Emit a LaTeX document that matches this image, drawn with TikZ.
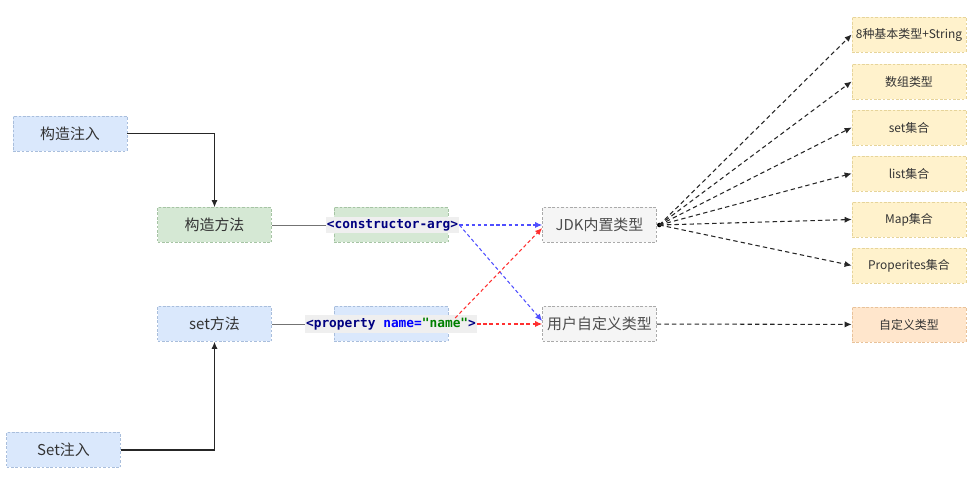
\documentclass[tikz,border=0pt]{standalone}
\usepackage{fontspec}
\usepackage{xcolor}
\setmainfont{Noto Sans CJK SC}
\newfontfamily\codefont{DejaVu Sans Mono}
\usetikzlibrary{arrows.meta}

\definecolor{bluefill}{HTML}{DAE8FC}
\definecolor{blueline}{HTML}{A9BEDC}
\definecolor{greenfill}{HTML}{D5E8D4}
\definecolor{greenline}{HTML}{A6C4A4}
\definecolor{grayfill}{HTML}{F5F5F5}
\definecolor{grayline}{HTML}{AAAAAA}
\definecolor{yellowfill}{HTML}{FFF2CC}
\definecolor{yellowline}{HTML}{E6D49A}
\definecolor{orangefill}{HTML}{FFE6CC}
\definecolor{orangeline}{HTML}{E8C29A}
\definecolor{codebg}{HTML}{EFEFEF}
\definecolor{navy}{HTML}{000080}
\definecolor{kwblue}{HTML}{0000FF}
\definecolor{strgreen}{HTML}{008000}
\definecolor{xmlblue}{HTML}{4F4FFF}
\definecolor{xmlred}{HTML}{FF3030}

\begin{document}
\begin{tikzpicture}[x=0.02cm, y=-0.02cm,
    box/.style={rectangle, minimum width=2.28cm, minimum height=0.7cm, inner sep=1pt,
      line width=0.4pt, dash pattern=on 1.5pt off 1pt, text=black!80, font=\fontsize{8.5}{10}\selectfont},
    bluebox/.style={box, draw=blueline, fill=bluefill},
    greenbox/.style={box, draw=greenline, fill=greenfill},
    graybox/.style={box, draw=grayline, fill=grayfill, text=black!70},
    kindbox/.style={box, draw=yellowline, fill=yellowfill, font=\fontsize{6.8}{8}\selectfont},
    ownbox/.style={box, draw=orangeline, fill=orangefill, font=\fontsize{6.8}{8}\selectfont},
    codetxt/.style={fill=codebg, inner xsep=0.5pt, inner ysep=1.5pt, font=\codefont\bfseries\fontsize{7.3}{8}\selectfont},
    link/.style={-{Latex[length=4pt,width=3.5pt]}, line width=0.6pt, black!85},
    plain/.style={line width=0.5pt, black!55},
    xmlarrow/.style={-{Latex[length=4pt,width=3.5pt]}, line width=0.6pt, dash pattern=on 2pt off 1.5pt},
    fan/.style={-{Latex[length=4pt,width=3.5pt]}, line width=0.6pt, black!85, dash pattern=on 2.5pt off 1.8pt}]
    \useasboundingbox (0,0) rectangle (974,492);

    % Injection kinds
    \node[bluebox] (ctorinj) at (70,133.5) {构造注入};
    \node[bluebox] (setinj) at (63.5,450) {Set注入};

    % Methods
    \node[greenbox] (ctorm) at (214.5,225) {构造方法};
    \node[bluebox] (setm) at (214.5,324) {set方法};

    % Xml tags
    \node[greenbox] (ctorbg) at (391,225) {};
    \node[bluebox] (propbg) at (391,324) {};
    \node[codetxt] (ctorarg) at (392.5,225) {\textcolor{navy}{<constructor-arg>}};
    \node[codetxt] (prop) at (391,324) {\textcolor{navy}{<property} \textcolor{kwblue}{name=}\textcolor{strgreen}{"name"}\textcolor{navy}{>}};

    % Type groups
    \node[graybox] (jdk) at (599.5,225) {JDK内置类型};
    \node[graybox] (user) at (599.5,324) {用户自定义类型};

    % Concrete types
    \node[kindbox] (basic) at (909,34.5) {8种基本类型+String};
    \node[kindbox] (arr) at (909,81.5) {数组类型};
    \node[kindbox] (setc) at (909,127.5) {set集合};
    \node[kindbox] (listc) at (909,173.5) {list集合};
    \node[kindbox] (mapc) at (909,219.5) {Map集合};
    \node[kindbox] (propc) at (909,265.5) {Properites集合};
    \node[ownbox] (own) at (909,324.5) {自定义类型};

    % Arrows
    \draw[link] (ctorinj.east) -| (ctorm.north);
    \draw[link] (setinj.east) -| (setm.south);
    \draw[plain] (ctorm) -- (ctorarg);
    \draw[plain] (setm) -- (prop);
    \draw[xmlarrow, xmlblue] (ctorarg.east) -- (jdk.west);
    \draw[xmlarrow, xmlblue] (ctorarg.east) -- ([yshift=0.06cm]user.west);
    \draw[xmlarrow, xmlred] ([xshift=-0.44cm,yshift=0.12cm]prop.east) -- ([yshift=-0.06cm]jdk.west);
    \draw[xmlarrow, xmlred] (prop.east) -- (user.west);

    \coordinate (jdkdot) at ([xshift=0.05cm]jdk.east);
    \fill (jdkdot) circle (1.3pt);
    \foreach \n in {basic, arr, setc, listc, mapc, propc}
        \draw[fan] (jdkdot) -- (\n.west);
    \draw[fan] (user) -- (own);
\end{tikzpicture}
\end{document}
